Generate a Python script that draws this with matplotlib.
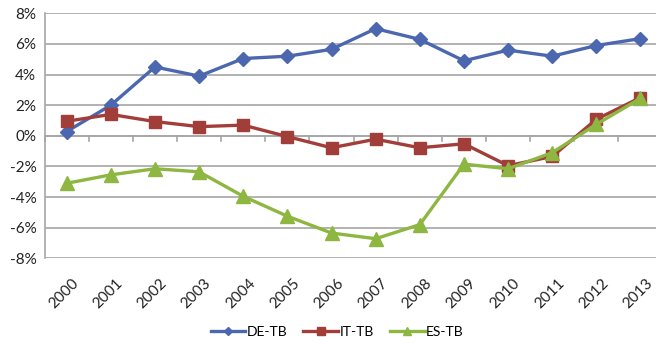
import numpy as np
import matplotlib.pyplot as plt
import matplotlib.transforms as mtransforms
from matplotlib.ticker import FuncFormatter

years = [str(y) for y in range(2000, 2014)]
de_tb = [0.28, 2.0, 4.5, 3.9, 5.05, 5.2, 5.65, 7.0, 6.3, 4.9, 5.6, 5.2, 5.9, 6.35]
it_tb = [0.95, 1.4, 0.93, 0.6, 0.7, -0.05, -0.78, -0.22, -0.78, -0.52, -1.95, -1.35, 1.08, 2.5]
es_tb = [-3.1, -2.55, -2.15, -2.35, -3.95, -5.25, -6.35, -6.72, -5.8, -1.85, -2.15, -1.1, 0.75, 2.45]

plt.rcParams['font.family'] = ['Lato', 'DejaVu Sans']

fig = plt.figure(figsize=(6.56, 3.45), dpi=100)
ax = fig.add_axes([0.068, 0.2513, 0.942, 0.710])

x = np.arange(len(years))
grid_c = '#a6a6a6'
ax.plot(x, de_tb, color='#4a67b0', lw=2.4, marker='D', ms=7.5, label='DE-TB', zorder=3)
ax.plot(x, it_tb, color='#a23e3a', lw=2.4, marker='s', ms=8.5, label='IT-TB', zorder=4)
ax.plot(x, es_tb, color='#8db740', lw=2.4, marker='^', ms=10, label='ES-TB', zorder=5)

ax.set_xlim(-0.5, len(years) - 0.5)
ax.set_ylim(-8, 8)
ax.set_yticks(np.arange(-8, 9, 2))
ax.yaxis.set_major_formatter(FuncFormatter(lambda v, _: f'{v:.0f}%'))
ax.yaxis.grid(True, color=grid_c, lw=1.2)
ax.set_axisbelow(True)

# category axis sits on the 0% line, ticks between categories
for s in ('top', 'right', 'bottom'):
    ax.spines[s].set_visible(False)
ax.spines['left'].set_color(grid_c)
ax.spines['left'].set_linewidth(1.2)
ax.axhline(0, color=grid_c, lw=1.2, zorder=1)
for b in np.arange(-0.5, len(years), 1.0):
    ax.plot([b, b], [0, -0.35], color=grid_c, lw=1.2, zorder=1, clip_on=False)

ax.set_xticks(x)
ax.set_xticklabels(years, rotation=45, ha='right', va='top', rotation_mode='anchor')
ax.tick_params(axis='x', length=0, pad=13, labelsize=11)
ax.tick_params(axis='y', length=0, pad=6, labelsize=11)
shift = mtransforms.ScaledTranslation(5 / 100, 0, fig.dpi_scale_trans)
for lbl in ax.get_xticklabels():
    lbl.set_transform(lbl.get_transform() + shift)
for lbl in ax.get_xticklabels() + ax.get_yticklabels():
    lbl.set_color('#222222')

leg = ax.legend(loc='center', bbox_to_anchor=(0.514, 0.037), bbox_transform=fig.transFigure,
                ncol=3, frameon=False, fontsize=10, handlelength=2.5, handletextpad=0.1,
                columnspacing=1.15, markerscale=0.6)

fig.savefig('out.png', dpi=100)
